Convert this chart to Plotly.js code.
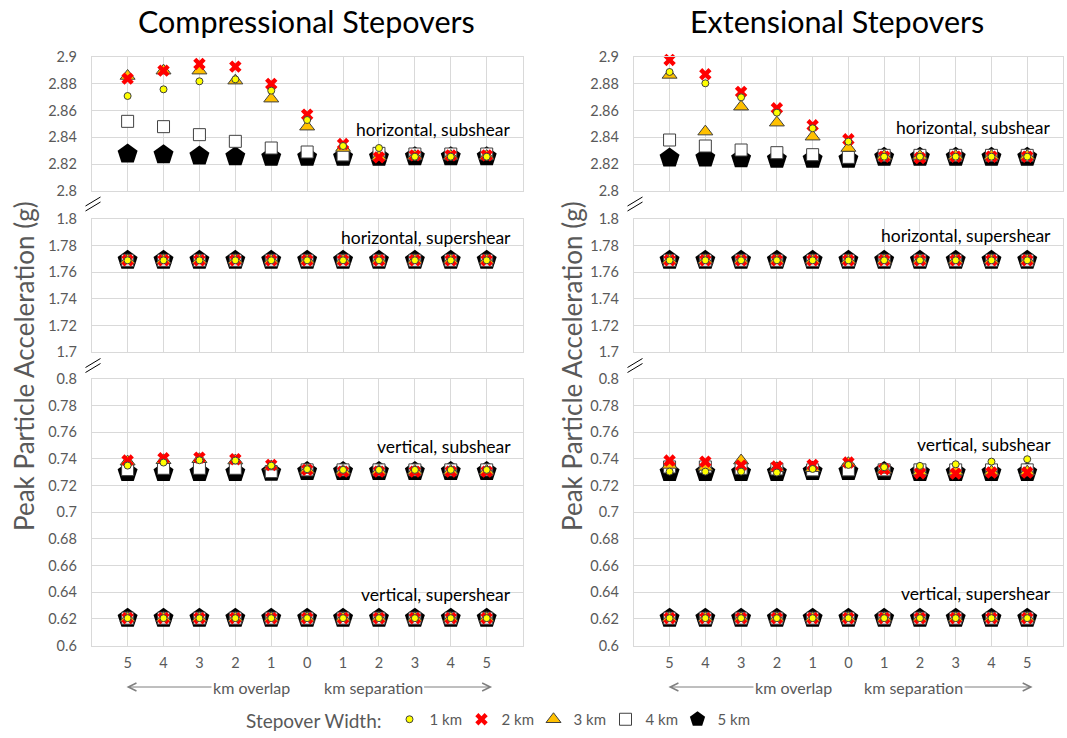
<!DOCTYPE html>
<html>
<head>
<meta charset="utf-8">
<script src="https://cdn.plot.ly/plotly-3.0.1.min.js"></script>
<style>html,body{margin:0;padding:0;background:#fff;}#chart{width:1067px;height:738px;}</style>
</head>
<body>
<div id="chart"></div>
<script>
// ---- categories / tick labels ----
const xPos = [0,1,2,3,4,5,6,7,8,9,10];
const xTickText = ['5','4','3','2','1','0','1','2','3','4','5'];
const seriesNames = ['1 km','2 km','3 km','4 km','5 km'];

// ---- Compressional: horizontal, subshear ----
const comp_hsub_1 = [2.871, 2.876, 2.882, 2.8835, 2.875, 2.853, 2.8335, 2.832, 2.8255, 2.8255, 2.8255];
const comp_hsub_2 = [2.884, 2.890, 2.895, 2.893, 2.880, 2.857, 2.835, 2.825, 2.8265, 2.8265, 2.8265];
const comp_hsub_3 = [2.886, 2.890, 2.890, 2.8825, 2.869, 2.848, 2.832, 2.8255, 2.826, 2.826, 2.826];
const comp_hsub_4 = [2.852, 2.848, 2.842, 2.837, 2.832, 2.829, 2.8268, 2.828, 2.8275, 2.8275, 2.8275];
const comp_hsub_5 = [2.8275, 2.827, 2.826, 2.8255, 2.825, 2.825, 2.825, 2.825, 2.8255, 2.8255, 2.8255];
// ---- Compressional: horizontal, supershear ----
const comp_hsup_1 = [1.769, 1.769, 1.769, 1.769, 1.769, 1.769, 1.769, 1.769, 1.769, 1.769, 1.769];
const comp_hsup_2 = [1.769, 1.769, 1.769, 1.769, 1.769, 1.769, 1.769, 1.769, 1.769, 1.769, 1.769];
const comp_hsup_3 = [1.769, 1.769, 1.769, 1.769, 1.769, 1.769, 1.769, 1.769, 1.769, 1.769, 1.769];
const comp_hsup_4 = [1.769, 1.769, 1.769, 1.769, 1.769, 1.769, 1.769, 1.769, 1.769, 1.769, 1.769];
const comp_hsup_5 = [1.769, 1.769, 1.769, 1.769, 1.769, 1.769, 1.769, 1.769, 1.769, 1.769, 1.769];
// ---- Compressional: vertical, subshear ----
const comp_vsub_1 = [0.735, 0.7373, 0.739, 0.7388, 0.735, 0.7323, 0.7318, 0.7318, 0.7318, 0.7318, 0.7318];
const comp_vsub_2 = [0.7388, 0.7405, 0.741, 0.7398, 0.7355, 0.7318, 0.7305, 0.7305, 0.7305, 0.7305, 0.7305];
const comp_vsub_3 = [0.738, 0.739, 0.7398, 0.7388, 0.7343, 0.7318, 0.731, 0.731, 0.731, 0.731, 0.731];
const comp_vsub_4 = [0.732, 0.733, 0.733, 0.733, 0.7305, 0.7318, 0.7318, 0.7318, 0.7318, 0.7318, 0.7318];
const comp_vsub_5 = [0.7298, 0.7298, 0.7298, 0.7298, 0.730, 0.7305, 0.7305, 0.7305, 0.7305, 0.7305, 0.7305];
// ---- Compressional: vertical, supershear ----
const comp_vsup_1 = [0.6205, 0.6205, 0.6205, 0.6205, 0.6205, 0.6205, 0.6205, 0.6205, 0.6205, 0.6205, 0.6205];
const comp_vsup_2 = [0.6205, 0.6205, 0.6205, 0.6205, 0.6205, 0.6205, 0.6205, 0.6205, 0.6205, 0.6205, 0.6205];
const comp_vsup_3 = [0.6205, 0.6205, 0.6205, 0.6205, 0.6205, 0.6205, 0.6205, 0.6205, 0.6205, 0.6205, 0.6205];
const comp_vsup_4 = [0.6205, 0.6205, 0.6205, 0.6205, 0.6205, 0.6205, 0.6205, 0.6205, 0.6205, 0.6205, 0.6205];
const comp_vsup_5 = [0.6205, 0.6205, 0.6205, 0.6205, 0.6205, 0.6205, 0.6205, 0.6205, 0.6205, 0.6205, 0.6205];

// ---- Extensional: horizontal, subshear ----
const ext_hsub_1 = [2.889, 2.8805, 2.870, 2.8585, 2.8468, 2.8368, 2.8255, 2.8255, 2.8255, 2.8255, 2.8255];
const ext_hsub_2 = [2.898, 2.8873, 2.874, 2.8618, 2.849, 2.8385, 2.8255, 2.8245, 2.8255, 2.8255, 2.8255];
const ext_hsub_3 = [2.8868, 2.8443, 2.863, 2.851, 2.8405, 2.832, 2.826, 2.826, 2.826, 2.826, 2.826];
const ext_hsub_4 = [2.838, 2.8335, 2.8305, 2.8285, 2.827, 2.825, 2.8265, 2.8265, 2.8265, 2.8265, 2.8265];
const ext_hsub_5 = [2.8245, 2.8245, 2.824, 2.8235, 2.8235, 2.8235, 2.825, 2.825, 2.825, 2.825, 2.825];
// ---- Extensional: horizontal, supershear ----
const ext_hsup_1 = [1.769, 1.769, 1.769, 1.769, 1.769, 1.769, 1.769, 1.769, 1.769, 1.769, 1.769];
const ext_hsup_2 = [1.769, 1.769, 1.769, 1.769, 1.769, 1.769, 1.769, 1.769, 1.769, 1.769, 1.769];
const ext_hsup_3 = [1.769, 1.769, 1.769, 1.769, 1.769, 1.769, 1.769, 1.769, 1.769, 1.769, 1.769];
const ext_hsup_4 = [1.769, 1.769, 1.769, 1.769, 1.769, 1.769, 1.769, 1.769, 1.769, 1.769, 1.769];
const ext_hsup_5 = [1.769, 1.769, 1.769, 1.769, 1.769, 1.769, 1.769, 1.769, 1.769, 1.769, 1.769];
// ---- Extensional: vertical, subshear ----
const ext_vsub_1 = [0.7305, 0.7305, 0.7305, 0.7298, 0.7325, 0.7355, 0.7338, 0.7348, 0.736, 0.738, 0.7398];
const ext_vsub_2 = [0.7388, 0.738, 0.735, 0.7343, 0.7355, 0.7373, 0.7323, 0.7293, 0.729, 0.7298, 0.7298];
const ext_vsub_3 = [0.7355, 0.734, 0.7388, 0.733, 0.733, 0.7368, 0.7318, 0.7305, 0.7305, 0.7305, 0.7305];
const ext_vsub_4 = [0.734, 0.734, 0.733, 0.7325, 0.7318, 0.7318, 0.7318, 0.7318, 0.7318, 0.7318, 0.7318];
const ext_vsub_5 = [0.7298, 0.7298, 0.7298, 0.7298, 0.7305, 0.7305, 0.7305, 0.7298, 0.7298, 0.7298, 0.7298];
// ---- Extensional: vertical, supershear ----
const ext_vsup_1 = [0.6205, 0.6205, 0.6205, 0.6205, 0.6205, 0.6205, 0.6205, 0.6205, 0.6205, 0.6205, 0.6205];
const ext_vsup_2 = [0.6205, 0.6205, 0.6205, 0.6205, 0.6205, 0.6205, 0.6205, 0.6205, 0.6205, 0.6205, 0.6205];
const ext_vsup_3 = [0.6205, 0.6205, 0.6205, 0.6205, 0.6205, 0.6205, 0.6205, 0.6205, 0.6205, 0.6205, 0.6205];
const ext_vsup_4 = [0.6205, 0.6205, 0.6205, 0.6205, 0.6205, 0.6205, 0.6205, 0.6205, 0.6205, 0.6205, 0.6205];
const ext_vsup_5 = [0.6205, 0.6205, 0.6205, 0.6205, 0.6205, 0.6205, 0.6205, 0.6205, 0.6205, 0.6205, 0.6205];

// ---- build ----
const FONT = 'Lato, "Open Sans", sans-serif';
const GRAY = '#595959';
const GRID = '#d9d9d9';
const W = 1067, H = 738;
const px = v => v / W;
const py = v => 1 - v / H;

const markers = [
  {symbol:'circle', size:7, color:'#FFFF00', line:{color:'#404040', width:1}},
  {symbol:'x', size:11, color:'#FF0000', line:{width:0}},
  {symbol:'triangle-up', size:13, color:'#FFC000', line:{color:'#404040', width:1}},
  {symbol:'square', size:12, color:'#FFFFFF', line:{color:'#404040', width:1}},
  {symbol:'pentagon', size:21, color:'#000000', line:{width:0}}
];

const panels = [
  {xa:'x',  ya:'y',  data:[comp_hsub_1, comp_hsub_2, comp_hsub_3, comp_hsub_4, comp_hsub_5]},
  {xa:'x2', ya:'y2', data:[comp_hsup_1, comp_hsup_2, comp_hsup_3, comp_hsup_4, comp_hsup_5]},
  {xa:'x3', ya:'y3', data:[comp_vsub_1, comp_vsub_2, comp_vsub_3, comp_vsub_4, comp_vsub_5]},
  {xa:'x3', ya:'y3', data:[comp_vsup_1, comp_vsup_2, comp_vsup_3, comp_vsup_4, comp_vsup_5]},
  {xa:'x4', ya:'y4', data:[ext_hsub_1, ext_hsub_2, ext_hsub_3, ext_hsub_4, ext_hsub_5]},
  {xa:'x5', ya:'y5', data:[ext_hsup_1, ext_hsup_2, ext_hsup_3, ext_hsup_4, ext_hsup_5]},
  {xa:'x6', ya:'y6', data:[ext_vsub_1, ext_vsub_2, ext_vsub_3, ext_vsub_4, ext_vsub_5]},
  {xa:'x6', ya:'y6', data:[ext_vsup_1, ext_vsup_2, ext_vsup_3, ext_vsup_4, ext_vsup_5]}
];

const traces = [];
panels.forEach((p, pi) => {
  for (let s = 4; s >= 0; s--) {
    traces.push({
      type:'scatter', mode:'markers', x:xPos, y:p.data[s],
      xaxis:p.xa, yaxis:p.ya, name:seriesNames[s], legendgroup:seriesNames[s],
      legendrank:s+1, showlegend: pi === 0, cliponaxis:false,
      marker:markers[s], hoverinfo:'skip'
    });
  }
});

const xDomL = [px(91.7), px(522.6)];
const xDomR = [px(633.8), px(1063)];
const yDomTop = [py(190.7), py(57.3)];
const yDomMid = [py(352.3), py(219)];
const yDomBot = [py(645.5), py(379)];

function xax(dom, anchor, labels) {
  return {domain:dom, anchor:anchor, range:[-1,11], tickmode:'array', tickvals:xPos, ticktext:xTickText,
    showticklabels:labels, showgrid:true, gridcolor:GRID, gridwidth:1, zeroline:false,
    showline:true, mirror:true, linecolor:GRID, linewidth:1, ticks:'',
    tickfont:{family:FONT, size:14.5, color:GRAY}, ticklabelstandoff:4, fixedrange:true};
}
function yax(dom, anchor, rng) {
  return {domain:dom, anchor:anchor, range:rng, tickmode:'linear', tick0:rng[0], dtick:0.02,
    showgrid:true, gridcolor:GRID, gridwidth:1, zeroline:false,
    showline:true, mirror:true, linecolor:GRID, linewidth:1, ticks:'',
    tickfont:{family:FONT, size:14.5, color:GRAY}, ticklabelstandoff:11, fixedrange:true};
}

const annotations = [];
function txt(text, x, y, size, color, extra) {
  annotations.push(Object.assign({text:text, x:x, y:y, xref:'paper', yref:'paper', showarrow:false,
    font:{family:FONT, size:size, color:color}, xanchor:'center', yanchor:'middle'}, extra||{}));
}
// titles
txt('Compressional Stepovers', px(306), py(21), 30.5, '#000000');
txt('Extensional Stepovers', px(837), py(21), 30.5, '#000000');
// y titles
txt('Peak Particle Acceleration (g)', px(24), py(366), 26, GRAY, {textangle:-90});
txt('Peak Particle Acceleration (g)', px(572), py(366), 26, GRAY, {textangle:-90});
// panel labels
function plab(text, xr, yr, y) {
  annotations.push({text:text, xref:xr+' domain', yref:yr, x:1, y:y, xanchor:'right', yanchor:'middle',
    xshift:-10, showarrow:false, font:{family:FONT, size:17.5, color:'#000000'}});
}
plab('horizontal, subshear', 'x', 'y', 2.846);
plab('horizontal, supershear', 'x2', 'y2', 1.7865);
plab('vertical, subshear', 'x3', 'y3', 0.7492);
plab('vertical, supershear', 'x3', 'y3', 0.638);
plab('horizontal, subshear', 'x4', 'y4', 2.8477);
plab('horizontal, supershear', 'x5', 'y5', 1.788);
plab('vertical, subshear', 'x6', 'y6', 0.7512);
plab('vertical, supershear', 'x6', 'y6', 0.6392);

// km overlap / separation with arrows
function arrowLab(text, xr, headX, ax) {
  annotations.push({text:text, xref:xr, yref:'paper', x:headX, y:py(687), ax:ax, ay:0,
    showarrow:true, arrowhead:5, arrowsize:1.6, arrowwidth:1, arrowcolor:'#7f7f7f', standoff:0,
    font:{family:FONT, size:16, color:GRAY}});
}
arrowLab('km overlap', 'x3', -0.03, 125);
arrowLab('km separation', 'x3', 10.15, -119);
arrowLab('km overlap', 'x6', -0.03, 125);
arrowLab('km separation', 'x6', 10.15, -119);

// axis break marks
const shapes = [];
function brk(xc, yc) {
  [-2.5, 2.5].forEach(off => {
    shapes.push({type:'line', xref:'paper', yref:'paper',
      x0:px(xc-7.5), y0:py(yc+off+4.5), x1:px(xc+7.5), y1:py(yc+off-4.5),
      line:{color:'#000000', width:1}});
  });
}
brk(93, 204); brk(93, 365.5);
brk(635, 204); brk(635, 365.5);

const layout = {
  width:W, height:H, margin:{l:0, r:0, t:0, b:0},
  paper_bgcolor:'#ffffff', plot_bgcolor:'#ffffff',
  font:{family:FONT, color:GRAY},
  showlegend:true,
  legend:{orientation:'h', x:px(497), xanchor:'center', y:0, yanchor:'bottom',
    title:{text:'Stepover Width:', side:'left', font:{family:FONT, size:19, color:GRAY}},
    font:{family:FONT, size:15, color:GRAY}, entrywidth:27, entrywidthmode:'pixels', itemwidth:30,
    bgcolor:'rgba(0,0,0,0)'},
  xaxis:xax(xDomL, 'y', false), yaxis:yax(yDomTop, 'x', [2.8, 2.9]),
  xaxis2:xax(xDomL, 'y2', false), yaxis2:yax(yDomMid, 'x2', [1.7, 1.8]),
  xaxis3:xax(xDomL, 'y3', true), yaxis3:yax(yDomBot, 'x3', [0.6, 0.8]),
  xaxis4:xax(xDomR, 'y4', false), yaxis4:yax(yDomTop, 'x4', [2.8, 2.9]),
  xaxis5:xax(xDomR, 'y5', false), yaxis5:yax(yDomMid, 'x5', [1.7, 1.8]),
  xaxis6:xax(xDomR, 'y6', true), yaxis6:yax(yDomBot, 'x6', [0.6, 0.8]),
  annotations:annotations, shapes:shapes
};

Plotly.newPlot('chart', traces, layout, {displayModeBar:false, staticPlot:true});
</script>
</body>
</html>
